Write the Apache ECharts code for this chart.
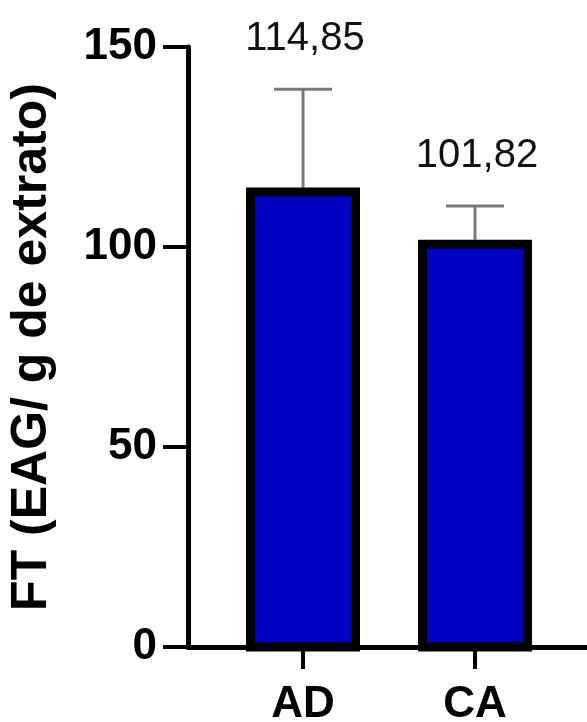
<!DOCTYPE html>
<html>
<head>
<meta charset="utf-8">
<script src="https://cdn.jsdelivr.net/npm/echarts@6/dist/echarts.min.js"></script>
<style>
  html, body { margin: 0; padding: 0; background: #ffffff; }
  #chart { width: 587px; height: 722px; }
</style>
</head>
<body>
<div id="chart"></div>
<script>
// Total phenolics per extract (mean and standard deviation)
const categories = ['AD', 'CA'];
const means = [114.85, 101.82];
const errors = [24.6, 8.4];
const yTicks = [0, 50, 100, 150];

const FONT = '"Liberation Sans", Arial, Helvetica, sans-serif';
const BAR_FILL = '#0000c0';
const BORDER = 9;
const BAR_OUTER = 114;   // bar width in px, border included
const CAP = 58;          // error cap width in px

const fmt = v => v.toFixed(2).replace('.', ',');

const chart = echarts.init(document.getElementById('chart'), null, { renderer: 'canvas' });

chart.setOption({
  animation: false,
  backgroundColor: '#ffffff',
  grid: { left: 188, right: 0, top: 47, bottom: 75, containLabel: false, outerBoundsMode: 'none' },
  xAxis: {
    type: 'value',
    min: -0.6686,
    max: 1.651,
    splitLine: { show: false },
    axisLine: { show: true, onZero: false, lineStyle: { color: '#000', width: 5 } },
    axisTick: { show: true, customValues: [0, 1], length: 22, lineStyle: { color: '#000', width: 4 } },
    axisLabel: {
      show: true,
      customValues: [0, 1],
      formatter: v => categories[Math.round(v)] || '',
      fontFamily: FONT, fontWeight: 'bold', fontSize: 44, color: '#000',
      margin: 36
    }
  },
  yAxis: {
    type: 'value',
    min: yTicks[0],
    max: yTicks[yTicks.length - 1],
    interval: 50,
    splitLine: { show: false },
    axisLine: { show: true, onZero: false, lineStyle: { color: '#000', width: 5 } },
    axisTick: { show: true, length: 25, lineStyle: { color: '#000', width: 4 } },
    axisLabel: {
      fontFamily: FONT, fontWeight: 'bold', fontSize: 44, color: '#000', margin: 31
    },
    name: 'FT (EAG/ g de extrato)',
    nameLocation: 'middle',
    nameGap: 131,
    nameMoveOverlap: false,
    nameTextStyle: { fontFamily: FONT, fontWeight: 'bold', fontSize: 50, color: '#000' }
  },
  series: [
    {
      // error bars with value labels
      type: 'custom',
      z: 1,
      data: means.map((m, i) => [i, m, errors[i]]),
      renderItem: function (params, api) {
        const i = api.value(0);
        const m = api.value(1);
        const e = api.value(2);
        const base = api.coord([i, m]);
        const top = api.coord([i, m + e]);
        return {
          type: 'group',
          children: [
            { type: 'line', shape: { x1: base[0], y1: base[1], x2: top[0], y2: top[1] },
              style: { stroke: '#7a7a7a', lineWidth: 3 } },
            { type: 'line', shape: { x1: top[0] - CAP / 2, y1: top[1], x2: top[0] + CAP / 2, y2: top[1] },
              style: { stroke: '#7a7a7a', lineWidth: 3 } },
            { type: 'text', x: top[0] + 2, y: top[1] - 50,
              style: { text: fmt(m), fontFamily: FONT, fontSize: 40, fill: '#111',
                       align: 'center', verticalAlign: 'middle' } }
          ]
        };
      }
    },
    {
      // bars: border drawn inside the bar's outline
      type: 'custom',
      z: 2,
      data: means.map((m, i) => [i, m]),
      renderItem: function (params, api) {
        const i = api.value(0);
        const m = api.value(1);
        const top = api.coord([i, m]);
        const bottom = api.coord([i, 0]);
        const half = BORDER / 2;
        return {
          type: 'rect',
          shape: {
            x: top[0] - BAR_OUTER / 2 + half,
            y: top[1] + half,
            width: BAR_OUTER - BORDER,
            height: bottom[1] - top[1] - half
          },
          style: { fill: BAR_FILL, stroke: '#000', lineWidth: BORDER }
        };
      }
    }
  ]
});
</script>
</body>
</html>
